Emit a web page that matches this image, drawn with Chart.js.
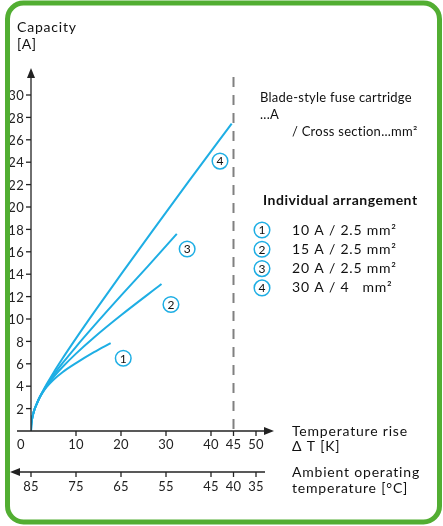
<!DOCTYPE html>
<html>
<head>
<meta charset="utf-8">
<script src="https://cdn.jsdelivr.net/npm/chart.js@4"></script>
<style>
  html, body { margin: 0; padding: 0; background: #fff; }
  #wrap { width: 443px; height: 526px; position: relative; }
</style>
</head>
<body>
<div id="wrap"><canvas id="fuseChart"></canvas></div>
<script>
// temperature rise (K) and capacity (A)
var rise1 = [0, 0.05, 0.2, 0.5, 0.8, 1.3, 1.8, 2.5, 3.5, 5, 7, 10, 14, 17.7];
var cap1  = [0, 0.5, 1, 1.55, 1.95, 2.45, 2.9, 3.38, 3.93, 4.57, 5.25, 6.06, 7.04, 7.85];
var rise2 = [0, 0.05, 0.2, 0.5, 0.8, 1.3, 1.8, 2.5, 3.5, 5, 7, 10, 14, 20, 29];
var cap2  = [0, 0.5, 1, 1.55, 1.95, 2.45, 2.9, 3.41, 4.03, 4.81, 5.71, 6.91, 8.35, 10.33, 13.12];
var rise3 = [0, 0.05, 0.2, 0.5, 0.8, 1.3, 1.8, 2.5, 3.5, 5, 7, 10, 14, 20, 26, 32.4];
var cap3  = [0, 0.5, 1, 1.55, 1.95, 2.45, 2.9, 3.43, 4.1, 4.99, 6.05, 7.52, 9.38, 12.08, 14.72, 17.6];
var rise4 = [0, 0.05, 0.2, 0.5, 0.8, 1.3, 1.8, 2.5, 3.5, 5, 7, 10, 14, 20, 27, 35, 44.6];
var cap4  = [0, 0.5, 1, 1.55, 1.95, 2.45, 2.9, 3.45, 4.19, 5.21, 6.47, 8.27, 10.59, 13.98, 17.87, 22.27, 27.45];

var riseTicks = [10, 20, 30, 40, 45, 50];
var ambientTicks = [85, 75, 65, 55, 45, 40, 35];
var capTicks = [2, 4, 6, 8, 10, 12, 14, 16, 18, 20, 22, 24, 26, 28, 30];
var fuseLabels = ['10 A / 2.5 mm\u00b2', '15 A / 2.5 mm\u00b2', '20 A / 2.5 mm\u00b2', '30 A / 4   mm\u00b2'];
// where the circled numbers sit on the curves
var markRise = [20.5, 31.1, 34.7, 42];
var markCap = [6.5, 11.3, 16.25, 24.1];
var limitRise = 45;

var BLUE = '#1eaee4';
var FONT = 'Lato, "Open Sans", sans-serif';

function pts(xs, ys) {
    return xs.map(function (x, i) { return { x: x, y: ys[i] }; });
}

function circleNum(ctx, x, y, n) {
    ctx.beginPath();
    ctx.arc(x, y, 7.8, 0, Math.PI * 2);
    ctx.fillStyle = '#fff';
    ctx.fill();
    ctx.lineWidth = 1.5;
    ctx.strokeStyle = BLUE;
    ctx.stroke();
    ctx.fillStyle = '#111';
    ctx.font = '12px ' + FONT;
    ctx.letterSpacing = '0px';
    ctx.textAlign = 'center';
    ctx.textBaseline = 'middle';
    ctx.fillText(String(n), x, y + 0.5);
}

var axesPlugin = {
    id: 'axesPlugin',
    afterDraw: function (chart) {
        var ctx = chart.ctx;
        var xs = chart.scales.x, ys = chart.scales.y;
        var x0 = xs.getPixelForValue(0), y0 = ys.getPixelForValue(0);
        ctx.save();
        ctx.strokeStyle = '#222';
        ctx.fillStyle = '#222';
        ctx.lineWidth = 1.3;

        // limit line
        var lx = xs.getPixelForValue(limitRise);
        ctx.save();
        ctx.strokeStyle = '#808080';
        ctx.lineWidth = 2;
        ctx.setLineDash([10, 8]);
        ctx.beginPath();
        ctx.moveTo(lx, 77);
        ctx.lineTo(lx, y0);
        ctx.stroke();
        ctx.restore();

        // y axis
        ctx.beginPath();
        ctx.moveTo(x0, y0);
        ctx.lineTo(x0, 76);
        ctx.stroke();
        ctx.beginPath();
        ctx.moveTo(x0, 68);
        ctx.lineTo(x0 - 4, 78);
        ctx.lineTo(x0 + 4, 78);
        ctx.closePath();
        ctx.fill();
        ctx.font = '13px ' + FONT;
        ctx.letterSpacing = '0.3px';
        ctx.textAlign = 'right';
        ctx.textBaseline = 'middle';
        capTicks.forEach(function (v) {
            var py = ys.getPixelForValue(v);
            ctx.beginPath();
            ctx.moveTo(x0 - 5, py);
            ctx.lineTo(x0, py);
            ctx.stroke();
            ctx.fillText(String(v), x0 - 7, py + 1);
        });

        // x axis (temperature rise)
        ctx.beginPath();
        ctx.moveTo(17, y0);
        ctx.lineTo(266, y0);
        ctx.stroke();
        ctx.beginPath();
        ctx.moveTo(274, y0);
        ctx.lineTo(264, y0 - 4);
        ctx.lineTo(264, y0 + 4);
        ctx.closePath();
        ctx.fill();
        ctx.textAlign = 'center';
        ctx.fillText('0', x0 - 10, y0 + 14);
        riseTicks.forEach(function (v) {
            var px = xs.getPixelForValue(v);
            ctx.beginPath();
            ctx.moveTo(px, y0);
            ctx.lineTo(px, y0 + 5);
            ctx.stroke();
            ctx.fillText(String(v), px, y0 + 14);
        });

        // ambient temperature axis
        var ay = y0 + 41;
        ctx.beginPath();
        ctx.moveTo(18, ay);
        ctx.lineTo(265, ay);
        ctx.stroke();
        ctx.beginPath();
        ctx.moveTo(10, ay);
        ctx.lineTo(20, ay - 4);
        ctx.lineTo(20, ay + 4);
        ctx.closePath();
        ctx.fill();
        ambientTicks.forEach(function (t) {
            var px = xs.getPixelForValue(85 - t);
            ctx.beginPath();
            ctx.moveTo(px, ay);
            ctx.lineTo(px, ay + 5);
            ctx.stroke();
            ctx.fillText(String(t), px, ay + 15);
        });

        // axis titles
        ctx.textAlign = 'left';
        ctx.fillStyle = '#111';
        ctx.font = '14px ' + FONT;
        ctx.letterSpacing = '0.8px';
        ctx.fillText('Capacity', 17, 27);
        ctx.fillText('[A]', 17, 44);
        ctx.fillText('Temperature rise', 292, 431);
        ctx.fillText('\u0394 T [K]', 292, 446);
        ctx.fillText('Ambient operating', 292, 472);
        ctx.fillText('temperature [\u00b0C]', 292, 488);

        // description + legend
        ctx.font = '13px ' + FONT;
        ctx.letterSpacing = '0.25px';
        ctx.fillText('Blade-style fuse cartridge', 260, 98);
        ctx.fillText('...A', 260, 115);
        ctx.fillText('/ Cross section...mm\u00b2', 292, 132);
        ctx.font = 'bold 14px ' + FONT;
        ctx.letterSpacing = '0.5px';
        ctx.fillText('Individual arrangement', 263, 200);
        for (var i = 0; i < fuseLabels.length; i++) {
            var ry = 230 + i * 19.3;
            circleNum(ctx, 262, ry, i + 1);
            ctx.fillStyle = '#111';
            ctx.font = '14px ' + FONT;
            ctx.letterSpacing = '0.8px';
            ctx.textAlign = 'left';
            ctx.textBaseline = 'middle';
            ctx.fillText(fuseLabels[i], 292, ry);
        }

        // circled numbers on the curves
        for (var k = 0; k < markRise.length; k++) {
            circleNum(ctx, xs.getPixelForValue(markRise[k]), ys.getPixelForValue(markCap[k]), k + 1);
        }

        // green frame
        ctx.beginPath();
        ctx.roundRect(7.5, 3, 432, 519, 16);
        ctx.lineWidth = 5;
        ctx.strokeStyle = '#52ae32';
        ctx.stroke();
        ctx.restore();
    }
};

function series(xs, ys) {
    return {
        data: pts(xs, ys),
        borderColor: BLUE,
        borderWidth: 2,
        pointRadius: 0,
        fill: false,
        cubicInterpolationMode: 'monotone'
    };
}

new Chart(document.getElementById('fuseChart'), {
    type: 'line',
    data: {
        datasets: [
            series(rise1, cap1),
            series(rise2, cap2),
            series(rise3, cap3),
            series(rise4, cap4)
        ]
    },
    options: {
        responsive: true,
        maintainAspectRatio: false,
        animation: false,
        layout: { padding: { left: 31, right: 187, top: 95, bottom: 95 } },
        plugins: { legend: { display: false }, tooltip: { enabled: false } },
        scales: {
            x: { type: 'linear', min: 0, max: 50, display: false },
            y: { min: 0, max: 30, display: false }
        }
    },
    plugins: [axesPlugin]
});
</script>
</body>
</html>
